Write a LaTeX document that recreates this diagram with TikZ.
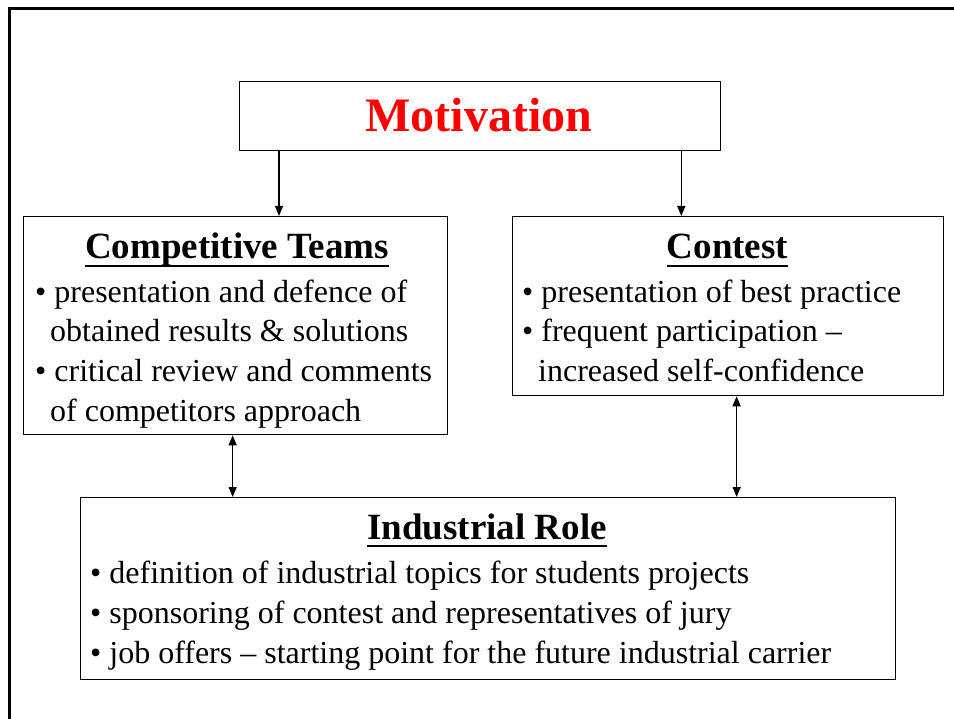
\documentclass[tikz,border=0pt]{standalone}
\usepackage{fontspec}
\setmainfont{Liberation Serif}
\usetikzlibrary{arrows.meta}

\begin{document}
\begin{tikzpicture}[x=1pt,y=-1pt,
  box/.style={draw, line width=1.3pt, anchor=north west, inner sep=0pt},
  title/.style={font=\fontsize{48}{52}\selectfont\bfseries, text=red, inner sep=0pt, anchor=base},
  head/.style={font=\fontsize{37}{40}\selectfont\bfseries, inner sep=0pt, anchor=base},
  item/.style={font=\fontsize{32}{40}\selectfont, inner sep=0pt, anchor=base west},
  ul/.style={line width=2.2pt},
  tip/.tip={Triangle[length=10pt,width=8pt]},
  link/.style={line width=1.4pt, -tip},
  both/.style={line width=1.4pt, tip-tip}]

\useasboundingbox (0,0) rectangle (954,719);

% page frame
\draw[line width=2.5pt] (9.5,719) -- (9.5,8.5) -- (954,8.5);

% boxes
\node[box, minimum width=481pt, minimum height=69pt] (mot) at (239,81) {};
\node[box, minimum width=424pt, minimum height=218pt] (ct) at (23,216) {};
\node[box, minimum width=431pt, minimum height=179pt] (co) at (512,216) {};
\node[box, minimum width=815pt, minimum height=182pt] (ir) at (80,497) {};

% title
\node[title] (motT) at (479,132) {Motivation};

% headings with underlines
\node[head] (ctH) at (237,259) {Competitive Teams};
\node[head] (coH) at (727.5,259) {Contest};
\node[head] (irH) at (487,539) {Industrial Role};
\foreach \h in {ctH,coH,irH}
  \draw[ul] ([yshift=-7pt]\h.base west) -- ([yshift=-7pt]\h.base east);

% Competitive Teams items
\node[item] (ct1) at (35,303) {• presentation and defence of};
\node[item] (ct2) at (50,342) {obtained results \& solutions};
\node[item] (ct3) at (35,382) {• critical review and comments};
\node[item] (ct4) at (50,421) {of competitors approach};

% Contest items
\node[item] (co1) at (522,303) {• presentation of best practice};
\node[item] (co2) at (522,342) {• frequent participation –};
\node[item] (co3) at (538,382) {increased self-confidence};

% Industrial Role items
\node[item] (ir1) at (90,583) {• definition of industrial topics for students projects};
\node[item] (ir2) at (90,623) {• sponsoring of contest and representatives of jury};
\node[item] (ir3) at (90,663) {• job offers – starting point for the future industrial carrier};

% connectors
\draw[link] ([xshift=40pt]mot.south west) -- ([xshift=40pt]mot.south west |- ct.north);
\draw[link] ([xshift=-40pt]mot.south east) -- ([xshift=-40pt]mot.south east |- co.north);
\draw[both] ([xshift=-3pt]ct.south) -- ([xshift=-3pt]ct.south |- ir.north);
\draw[both] ([xshift=8.5pt]co.south) -- ([xshift=8.5pt]co.south |- ir.north);

\end{tikzpicture}
\end{document}
